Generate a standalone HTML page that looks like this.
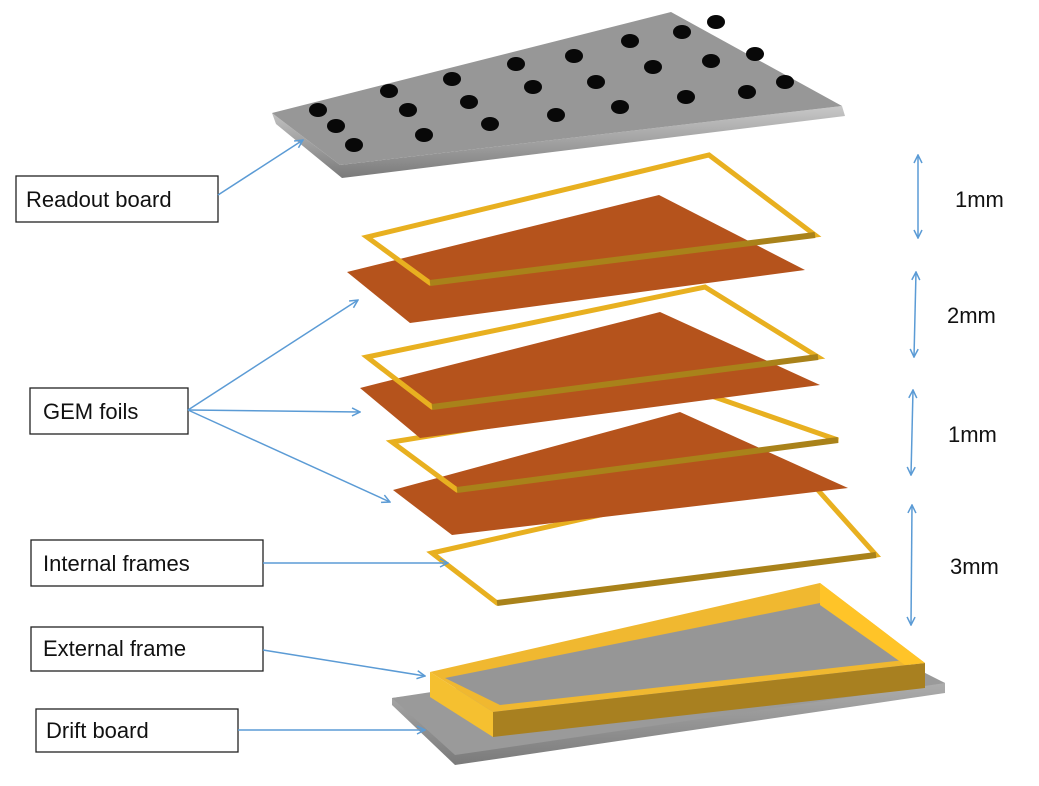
<!DOCTYPE html>
<html><head><meta charset="utf-8"><style>
body{margin:0;background:#fff;width:1039px;height:786px;overflow:hidden}
svg{display:block}
text{font-family:"Liberation Sans",sans-serif;font-size:22px;fill:#111}
</style></head><body>
<svg width="1039" height="786" viewBox="0 0 1039 786">
<defs>
<marker id="ah" viewBox="0 0 10 10" refX="9" refY="5" markerWidth="10" markerHeight="10" orient="auto-start-reverse" markerUnits="userSpaceOnUse"><path d="M1,1 L9,5 L1,9" fill="none" stroke="#5b9bd5" stroke-width="1.5"/></marker>
<linearGradient id="gr" x1="0" y1="0" x2="0" y2="1"><stop offset="0" stop-color="#c8c8c8"/><stop offset="1" stop-color="#7a7a7a"/></linearGradient>
</defs>
<!-- readout board -->
<g>
<polygon points="272,113 340,165 842,106 845,116 342,178 276,124" fill="url(#gr)"/>
<polygon points="272,113 671,12 842,106 340,165" fill="#979797"/>
<g fill="#080808">
<ellipse cx="318" cy="110" rx="9" ry="7"/><ellipse cx="336" cy="126" rx="9" ry="7"/><ellipse cx="354" cy="145" rx="9" ry="7"/>
<ellipse cx="389" cy="91" rx="9" ry="7"/><ellipse cx="408" cy="110" rx="9" ry="7"/><ellipse cx="424" cy="135" rx="9" ry="7"/>
<ellipse cx="452" cy="79" rx="9" ry="7"/><ellipse cx="469" cy="102" rx="9" ry="7"/><ellipse cx="490" cy="124" rx="9" ry="7"/>
<ellipse cx="516" cy="64" rx="9" ry="7"/><ellipse cx="533" cy="87" rx="9" ry="7"/><ellipse cx="556" cy="115" rx="9" ry="7"/>
<ellipse cx="574" cy="56" rx="9" ry="7"/><ellipse cx="596" cy="82" rx="9" ry="7"/><ellipse cx="620" cy="107" rx="9" ry="7"/>
<ellipse cx="630" cy="41" rx="9" ry="7"/><ellipse cx="653" cy="67" rx="9" ry="7"/><ellipse cx="686" cy="97" rx="9" ry="7"/>
<ellipse cx="682" cy="32" rx="9" ry="7"/><ellipse cx="711" cy="61" rx="9" ry="7"/><ellipse cx="747" cy="92" rx="9" ry="7"/>
<ellipse cx="716" cy="22" rx="9" ry="7"/><ellipse cx="755" cy="54" rx="9" ry="7"/><ellipse cx="785" cy="82" rx="9" ry="7"/>
</g></g>
<!-- drift board + external frame -->
<g>
<polygon points="392,698 845,640 945,683 945,693 455,765 392,705" fill="url(#gr)"/>
<polygon points="392,698 840,630 945,683 455,755" fill="#9a9a9a"/>
</g>
<g>
<polygon points="430,672 820,583 925,663 493,712" fill="#f0b830"/>
<polygon points="445,678 820,603 905,660 500,705" fill="#969696"/>
<polygon points="430,672 493,712 493,737 430,697" fill="#f5c030"/>
<polygon points="493,712 925,663 925,688 493,737" fill="#a88020"/>
<polygon points="820,583 925,663 905,665 820,605" fill="#ffc428"/>
</g>
<!-- layers bottom to top -->
<g><polygon points="432,553 800,470 876,555 497,603" fill="none" stroke="#e8b020" stroke-width="5"/><line x1="497" y1="603" x2="876" y2="555" stroke="#a9821a" stroke-width="6"/></g>
<polygon points="393,490 680,412 848,488 452,535" fill="#b5531c"/>
<g><polygon points="392,442 700,392 838,440 457,490" fill="none" stroke="#e8b020" stroke-width="5"/><line x1="457" y1="490" x2="838" y2="440" stroke="#a9821a" stroke-width="6"/></g>
<polygon points="360,388 660,312 820,385 420,438" fill="#b5531c"/>
<g><polygon points="367,357 705,287 818,357 432,407" fill="none" stroke="#e8b020" stroke-width="5"/><line x1="432" y1="407" x2="818" y2="357" stroke="#a9821a" stroke-width="6"/></g>
<polygon points="347,272 659,195 805,270 410,323" fill="#b5531c"/>
<g><polygon points="367,237 709,155 815,235 430,283" fill="none" stroke="#e8b020" stroke-width="5"/><line x1="430" y1="283" x2="815" y2="235" stroke="#a9821a" stroke-width="6"/></g>
<!-- labels -->
<g stroke="#222" stroke-width="1.3" fill="#fff">
<rect x="16" y="176" width="202" height="46"/>
<rect x="30" y="388" width="158" height="46"/>
<rect x="31" y="540" width="232" height="46"/>
<rect x="31" y="627" width="232" height="44"/>
<rect x="36" y="709" width="202" height="43"/>
</g>
<text x="26" y="207">Readout board</text>
<text x="43" y="419">GEM foils</text>
<text x="43" y="571">Internal frames</text>
<text x="43" y="656">External frame</text>
<text x="46" y="738">Drift board</text>
<g stroke="#5b9bd5" stroke-width="1.5" fill="none" marker-end="url(#ah)">
<line x1="218" y1="195" x2="303" y2="140"/>
<line x1="188" y1="410" x2="358" y2="300"/>
<line x1="188" y1="410" x2="360" y2="412"/>
<line x1="188" y1="410" x2="390" y2="502"/>
<line x1="263" y1="563" x2="448" y2="563"/>
<line x1="263" y1="650" x2="425" y2="676"/>
<line x1="238" y1="730" x2="425" y2="730"/>
</g>
<g stroke="#5b9bd5" stroke-width="1.5" fill="none" marker-start="url(#ah)" marker-end="url(#ah)">
<line x1="918" y1="155" x2="918" y2="238"/>
<line x1="916" y1="272" x2="914" y2="357"/>
<line x1="913" y1="390" x2="911" y2="475"/>
<line x1="912" y1="505" x2="911" y2="625"/>
</g>
<text x="955" y="207">1mm</text>
<text x="947" y="323">2mm</text>
<text x="948" y="442">1mm</text>
<text x="950" y="574">3mm</text>
</svg>
</body></html>
